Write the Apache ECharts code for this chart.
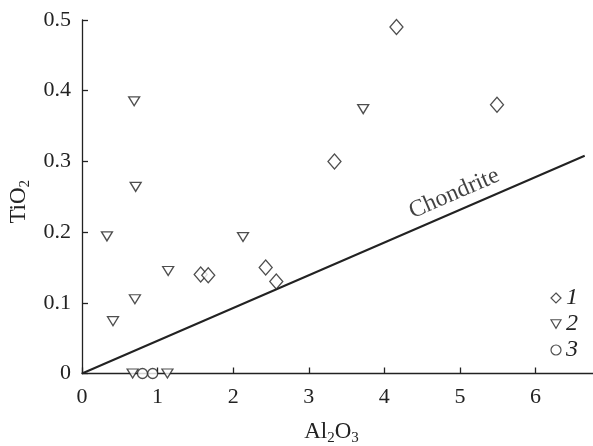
<!DOCTYPE html>
<html><head><meta charset="utf-8">
<script src="https://cdn.jsdelivr.net/npm/echarts@6/dist/echarts.min.js"></script>
<style>html,body{margin:0;padding:0;background:#fff}#c{width:593px;height:446px}</style>
</head><body><div id="c"></div>
<script>
// Data (Al2O3, TiO2)
const series1 = [[4.16, 0.49], [5.49, 0.38], [3.34, 0.30], [1.57, 0.14], [1.67, 0.139], [2.43, 0.15], [2.57, 0.13]];
const series2 = [[0.69, 0.385], [0.71, 0.264], [0.33, 0.194], [1.14, 0.145], [0.70, 0.105], [0.41, 0.074], [0.67, 0.0], [1.13, 0.0], [3.72, 0.374], [2.13, 0.193]];
const series3 = [[0.80, 0.0], [0.935, 0.0]];
const chondriteLine = [[0, 0], [6.65, 0.308]];
const chondriteLabelAt = [[4.94, 0.229]];
const legendNames = ['1', '2', '3'];
const xTicks = [0, 1, 2, 3, 4, 5, 6];
const yTicks = [0, 0.1, 0.2, 0.3, 0.4, 0.5];

const FONT = 'Liberation Serif';
const INK = '#222';
const tri = 'path://M0,0L20,0L10,17Z';
const mk = {color: '#fff', borderColor: INK, borderWidth: 1.3};
const richName = {a: {fontFamily: FONT, fontSize: 23, color: INK, lineHeight: 28}, s: {fontFamily: FONT, fontSize: 15, color: INK, lineHeight: 28, verticalAlign: 'bottom'}};

const chart = echarts.init(document.getElementById('c'), null, {renderer: 'canvas'});
chart.setOption({
  animation: false,
  backgroundColor: '#fff',
  grid: {left: 82, right: 0, top: 20, bottom: 72.5, containLabel: false, outerBoundsMode: 'none'},
  xAxis: {
    type: 'value', min: 0, max: 6.76, interval: 1,
    name: '{a|Al}{s|2}{a|O}{s|3}', nameLocation: 'middle', nameGap: 44,
    nameTextStyle: {rich: richName, padding: [0, 12, 0, 0]},
    axisLine: {lineStyle: {color: INK, width: 1.3}},
    axisTick: {inside: true, length: 6, lineStyle: {color: INK, width: 1.3}},
    axisLabel: {fontFamily: FONT, fontSize: 22, color: INK, margin: 13, showMaxLabel: false,
      formatter: v => xTicks.indexOf(v) >= 0 ? String(v) : ''},
    splitLine: {show: false}
  },
  yAxis: {
    type: 'value', min: 0, max: 0.5, interval: 0.1,
    name: '{a|TiO}{s|2}', nameLocation: 'middle', nameGap: 44, nameRotate: 90,
    nameTextStyle: {rich: richName, padding: [0, 10, 0, 0]},
    axisLine: {show: true, lineStyle: {color: INK, width: 1.3}},
    axisTick: {show: true, inside: true, length: 6, lineStyle: {color: INK, width: 1.3}},
    axisLabel: {fontFamily: FONT, fontSize: 22, color: INK, margin: 11,
      formatter: v => { const t = yTicks.find(k => Math.abs(k - v) < 1e-9); return t === undefined ? '' : (t === 0 ? '0' : t.toFixed(1)); }},
    splitLine: {show: false}
  },
  legend: {
    orient: 'vertical', right: 10, top: 281, itemGap: 2, itemWidth: 10, itemHeight: 10,
    data: legendNames,
    itemStyle: {color: '#fff', borderColor: INK, borderWidth: 1.2},
    textStyle: {fontFamily: FONT, fontSize: 24, fontStyle: 'italic', color: INK}
  },
  series: [
    {type: 'line', data: chondriteLine, showSymbol: false, symbol: 'none', silent: true,
     lineStyle: {color: INK, width: 2}, z: 1},
    {type: 'scatter', data: chondriteLabelAt, symbolSize: 0, silent: true, z: 1,
     itemStyle: {color: 'rgba(0,0,0,0)'},
     label: {show: true, formatter: 'Chondrite', rotate: 23.4, position: 'inside', fontFamily: FONT, fontSize: 24, color: '#111', offset: [6, -17]}},
    {name: legendNames[0], type: 'scatter', data: series1, symbol: 'diamond', symbolSize: [13, 15], itemStyle: mk, z: 3},
    {name: legendNames[1], type: 'scatter', data: series2, symbol: tri, symbolSize: [11, 9], itemStyle: mk, z: 3},
    {name: legendNames[2], type: 'scatter', data: series3, symbol: 'circle', symbolSize: 10, itemStyle: mk, z: 3}
  ]
});
</script></body></html>
